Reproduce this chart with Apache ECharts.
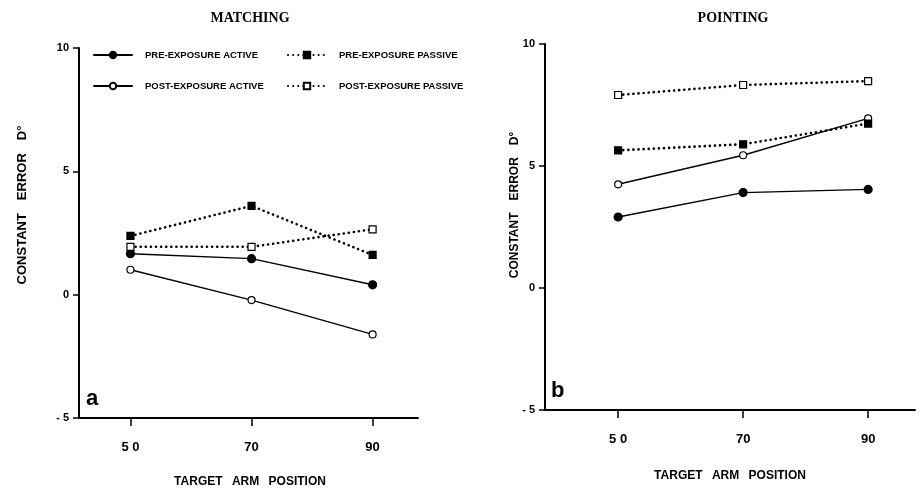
<!DOCTYPE html>
<html><head><meta charset="utf-8">
<script src="https://cdn.jsdelivr.net/npm/echarts@6/dist/echarts.min.js"></script>
<style>html,body{margin:0;padding:0;background:#fff}#c{width:920px;height:493px}</style>
</head><body><div id="c"></div>
<script>
const xPositions = [50, 70, 90];
const xTickLabels = ['5 0', '70', '90'];
const seriesNames = ['PRE-EXPOSURE ACTIVE', 'POST-EXPOSURE ACTIVE', 'PRE-EXPOSURE PASSIVE', 'POST-EXPOSURE PASSIVE'];
const yAxisTitle = 'CONSTANT\u2002\u2002ERROR\u2002\u2002D\u00b0';
const xAxisTitle = 'TARGET\u2002 ARM\u2002 POSITION';
// MATCHING (panel a)
const matchPreActive = [1.66, 1.46, 0.40];
const matchPostActive = [1.01, -0.22, -1.61];
const matchPrePassive = [2.38, 3.6, 1.61];
const matchPostPassive = [1.94, 1.94, 2.65];
// POINTING (panel b)
const pointPreActive = [2.91, 3.91, 4.04];
const pointPostActive = [4.25, 5.44, 6.95];
const pointPrePassive = [5.64, 5.89, 6.74];
const pointPostPassive = [7.91, 8.32, 8.48];

const chart = echarts.init(document.getElementById('c'));
const pairs = v => xPositions.map((x, i) => [x, v[i]]);
const styles = [
  {symbol: 'circle', size: 8, fill: '#000', type: 'solid', w: 1.4},
  {symbol: 'circle', size: 7, fill: '#fff', type: 'solid', w: 1.4},
  {symbol: 'rect', size: 7, fill: '#000', type: [0.1, 5], w: 2.6},
  {symbol: 'rect', size: 7, fill: '#fff', type: [0.1, 5], w: 2.6}
];
function mk(name, data, gi) {
  const s = styles[seriesNames.indexOf(name)];
  return {
    name, type: 'line', xAxisIndex: gi, yAxisIndex: gi, data: pairs(data),
    symbol: s.symbol, symbolSize: s.size, showAllSymbol: true,
    itemStyle: {color: s.fill, borderColor: '#000', borderWidth: 1.2},
    lineStyle: {color: '#000', width: s.w, type: s.type, cap: 'round'},
    animation: false, z: 3
  };
}
const font = 'Liberation Sans, Arial, sans-serif';
function xAxis(gi, min) {
  return {
    type: 'value', gridIndex: gi, min: min, max: 97.5,
    axisLine: {onZero: false, lineStyle: {color: '#000', width: 2}},
    axisTick: {customValues: xPositions, length: 8, lineStyle: {color: '#000', width: 1.5}},
    axisLabel: {customValues: xPositions, formatter: v => xTickLabels[xPositions.indexOf(v)],
      fontFamily: font, fontSize: 13, fontWeight: 'bold', color: '#000', margin: 23},
    splitLine: {show: false}
  };
}
function yAxis(gi) {
  return {
    type: 'value', gridIndex: gi, min: -5, max: 10, interval: 5,
    axisLine: {show: true, onZero: false, lineStyle: {color: '#000', width: 2}},
    axisTick: {show: true, length: 6, lineStyle: {color: '#000', width: 1.5}},
    axisLabel: {fontFamily: font, fontSize: 11, fontWeight: 'bold', color: '#000', margin: 10,
      formatter: v => v < 0 ? '- ' + Math.abs(v) : String(v)},
    splitLine: {show: false}
  };
}
const legendBase = {
  orient: 'vertical', itemWidth: 38, itemHeight: 8, itemGap: 21,
  textStyle: {fontFamily: font, fontSize: 9.5, color: '#000', fontWeight: 'bold', padding: [0, 0, 0, 8]}
};
function vText(x, y, size) {
  return {type: 'text', x: x, y: y, rotation: Math.PI / 2,
    style: {text: yAxisTitle, font: 'bold ' + size + 'px Liberation Sans, Arial, sans-serif', fill: '#000',
      align: 'center', verticalAlign: 'middle'}};
}
function hText(x, y, size) {
  return {type: 'text', x: x, y: y,
    style: {text: xAxisTitle, font: 'bold ' + size + 'px Liberation Sans, Arial, sans-serif', fill: '#000',
      align: 'center', verticalAlign: 'middle'}};
}
chart.setOption({
  backgroundColor: '#fff',
  animation: false,
  title: [
    {text: 'MATCHING', left: 245, top: 6, textAlign: 'center',
      textStyle: {fontFamily: 'Liberation Serif, Times New Roman, serif', fontSize: 14, fontWeight: 'bold', color: '#000'}},
    {text: 'POINTING', left: 728, top: 6, textAlign: 'center',
      textStyle: {fontFamily: 'Liberation Serif, Times New Roman, serif', fontSize: 14, fontWeight: 'bold', color: '#000'}}
  ],
  legend: [
    Object.assign({}, legendBase, {data: [seriesNames[0], seriesNames[1]], left: 88, top: 45}),
    Object.assign({}, legendBase, {data: [seriesNames[2], seriesNames[3]], left: 282, top: 45})
  ],
  grid: [
    {left: 79, top: 48, width: 339, height: 370},
    {left: 545, top: 44, width: 370, height: 366}
  ],
  xAxis: [xAxis(0, 41.5), xAxis(1, 38.3)],
  yAxis: [yAxis(0), yAxis(1)],
  graphic: [
    {type: 'text', left: 86, top: 388, style: {text: 'a', font: 'bold 22px Liberation Sans, Arial, sans-serif', fill: '#000'}},
    {type: 'text', left: 551, top: 380, style: {text: 'b', font: 'bold 22px Liberation Sans, Arial, sans-serif', fill: '#000'}},
    vText(22, 205, 13),
    vText(515, 205, 12),
    hText(250, 482, 12),
    hText(730, 476, 12)
  ],
  series: [
    mk(seriesNames[0], matchPreActive, 0),
    mk(seriesNames[1], matchPostActive, 0),
    mk(seriesNames[2], matchPrePassive, 0),
    mk(seriesNames[3], matchPostPassive, 0),
    mk(seriesNames[0], pointPreActive, 1),
    mk(seriesNames[1], pointPostActive, 1),
    mk(seriesNames[2], pointPrePassive, 1),
    mk(seriesNames[3], pointPostPassive, 1)
  ]
});
</script></body></html>
